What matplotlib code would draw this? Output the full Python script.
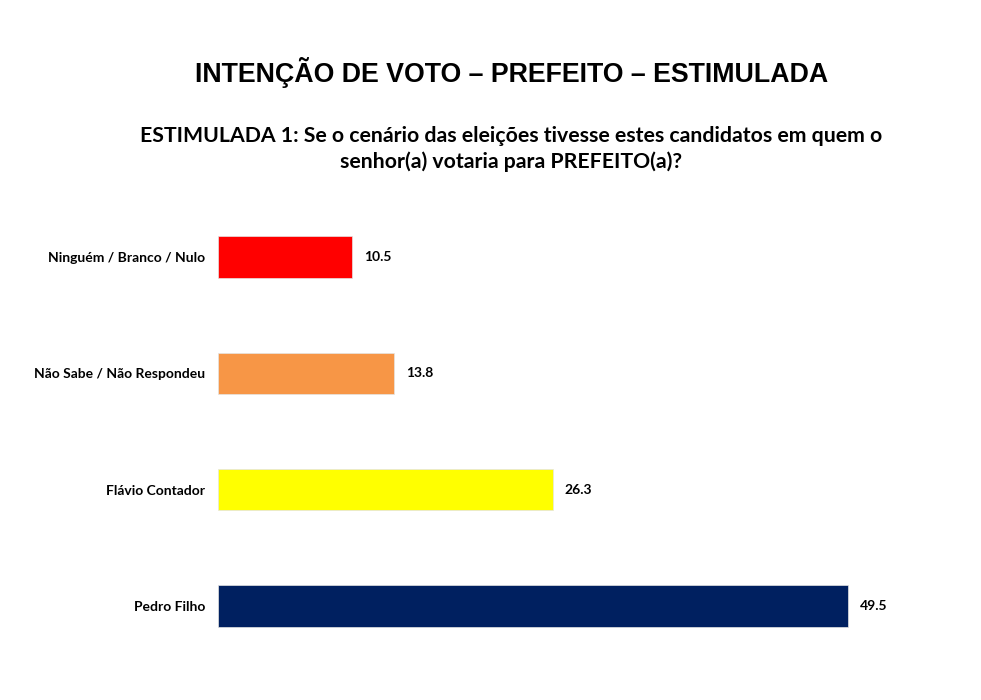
import matplotlib
matplotlib.use("Agg")
import matplotlib.pyplot as plt

categories = ["Ninguém / Branco / Nulo", "Não Sabe / Não Respondeu", "Flávio Contador", "Pedro Filho"]
values = [10.5, 13.8, 26.3, 49.5]
colors = ["#FF0000", "#F79646", "#FFFF00", "#002060"]

fig = plt.figure(figsize=(9.81, 7.0), dpi=100)
W, H = 981, 700
left, right = 218, 918
top, bottom = 199, 664
ax = fig.add_axes([left / W, 1 - bottom / H, (right - left) / W, (bottom - top) / H])

ypos = list(range(len(categories)))
ax.barh(ypos, values, height=0.355, color=colors, edgecolor="#E4E4E4", linewidth=0.5)
ax.set_xlim(0, 55)
ax.set_ylim(len(categories) - 0.5, -0.5)
for y, v in zip(ypos, values):
    ax.text(v + 0.95, y, f"{v:.1f}", va="center", ha="left", fontsize=10,
            fontweight="bold", family="Lato", color="#000000")
ax.set_yticks(ypos)
ax.set_yticklabels(categories, fontsize=10, fontweight="bold", family="Lato")
ax.tick_params(axis="y", length=0, pad=9)
ax.set_xticks([])
for s in ax.spines.values():
    s.set_visible(False)

fig.text(512 / W, 1 - 73 / H, "INTENÇÃO DE VOTO – PREFEITO – ESTIMULADA", ha="center", va="center",
         fontsize=19.3, fontweight="bold", family="Liberation Sans")
fig.text(511 / W, 1 - 149 / H,
         "ESTIMULADA 1: Se o cenário das eleições tivesse estes candidatos em quem o\nsenhor(a) votaria para PREFEITO(a)?",
         ha="center", va="center", fontsize=15.3, fontweight="bold", family="Lato", linespacing=1.35)

fig.savefig("out.png", dpi=100)
